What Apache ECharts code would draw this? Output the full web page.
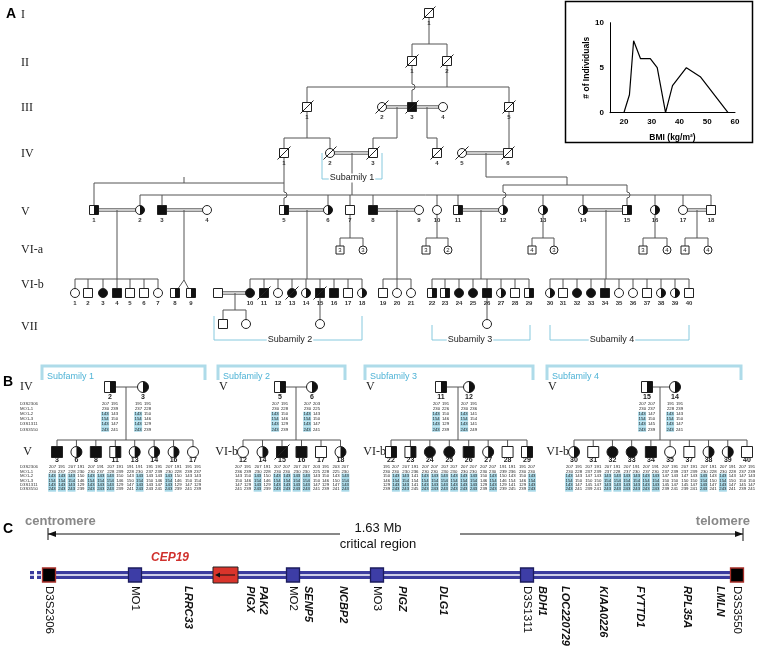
<!DOCTYPE html>
<html><head><meta charset="utf-8">
<script src="https://cdn.jsdelivr.net/npm/echarts@6/dist/echarts.min.js"></script>
<style>html,body{margin:0;padding:0;background:#fff}#c{width:757px;height:646px}</style>
</head><body><div id="c"></div>
<script>
// ---------- DATA ----------
const bmiValues = [20, 22, 23.5, 26, 29.5, 32, 35, 37.5, 42.5, 47.5, 57.5];
const individualCounts = [0, 2, 8, 6, 6, 5, 0, 3, 5, 4, 0];
const bmiTicks = [20, 30, 40, 50, 60];
const countTicks = [0, 5, 10];

const markerNames = ['D3S2306', 'MO1-1', 'MO1-2', 'MO1-3', 'D3S1311', 'D3S3550'];
// haplotypes: genotype per marker, '*' marks a shared (highlighted) allele
const sub1ParentIds = ['2', '3'];
const sub1ParentHaps = [
  '207 191,230 239,143* 143,154* 150,143* 147,243* 241',
  '191 191,237 228,143* 150,154* 146,143* 129,243* 239'];
const sub1ChildIds = ['3', '6', '8', '11', '13', '14', '16', '17'];
const sub1ChildHaps = [
  '207 191,230 237,143* 143*,154* 154*,143* 143*,243* 243*',
  '207 191,228 230,143* 150,154* 146,143* 129,243* 239',
  '207 191,230 237,143* 143*,154* 154*,143* 143*,243* 243*',
  '207 191,228 239,143* 150,154* 146,143* 129,243* 239',
  '191 191,228 230,143 143*,150 154*,147 143*,241 243*',
  '191 191,237 239,143 143,150 146,143 147,243 241',
  '207 191,230 228,143* 150,154* 146,143* 129,243* 239',
  '191 191,239 237,143 143,150 154,147 129,241 239'];
const sub2ParentIds = ['5', '6'];
const sub2ParentHaps = [
  '207 191,230 228,143* 150,154* 146,143* 129,243* 239',
  '207 203,230 225,143* 143,154* 150,143* 147,243* 241'];
const sub2ChildIds = ['12', '14', '15', '16', '17', '18'];
const sub2ChildHaps = [
  '207 191,236 239,143 150,150 146,147 129,241 239',
  '207 191,230 228,143* 150,154* 146,143* 129,243* 239',
  '207 207,230 230,143* 143*,154* 154*,143* 143*,243* 243*',
  '207 207,230 230,143* 143*,154* 154*,143* 143*,243* 243*',
  '203 191,225 228,143 150,150 146,147 129,241 239',
  '203 207,225 230,143 143*,150 154*,147 143*,241 243*'];
const sub3ParentIds = ['11', '12'];
const sub3ParentHaps = [
  '207 191,230 226,143* 150,154* 146,143* 129,243* 239',
  '207 191,230 236,143* 141,154* 154,143* 141,243* 249'];
const sub3ChildIds = ['22', '23', '24', '25', '26', '27', '28', '29'];
const sub3ChildHaps = [
  '191 207,230 230,150 143*,146 154*,129 143*,239 243*',
  '207 191,230 236,143* 141,154* 154,143* 141,243* 245',
  '207 207,230 230,143* 143*,154* 154*,143* 143*,243* 243*',
  '207 207,230 230,143* 143*,154* 154*,143* 143*,243* 243*',
  '207 207,230 230,143* 143*,154* 154*,143* 143*,243* 243*',
  '207 207,230 230,150 143*,146 154*,129 143*,239 243*',
  '191 191,239 236,150 143,146 154,129 141,239 245',
  '191 207,230 230,150 143*,146 154*,129 143*,239 243*'];
const sub4ParentIds = ['15', '14'];
const sub4ParentHaps = [
  '207 207,230 237,143* 147,154* 150,143* 145,243* 239',
  '191 191,228 239,143* 143,154* 150,143* 147,243* 241'];
const sub4ChildIds = ['30', '31', '32', '33', '34', '35', '37', '38', '39', '40'];
const sub4ChildHaps = [
  '207 191,230 228,143* 143,154* 150,143* 147,243* 241',
  '207 191,237 239,147 143,150 150,145 147,239 241',
  '207 191,237 228,143* 143*,154* 154*,143* 143*,243* 243*',
  '207 191,237 230,143* 143*,154* 154*,143* 143*,243* 243*',
  '207 191,237 230,143* 143*,154* 154*,143* 143*,243* 243*',
  '207 191,237 239,147 143,150 150,145 147,239 241',
  '207 191,237 239,147 143,150 150,145 147,239 241',
  '207 191,230 228,143* 143,154* 150,143* 147,243* 241',
  '207 191,230 228,143* 143,154* 150,143* 147,243* 241',
  '207 191,237 239,147 143,150 150,145 147,239 241'];

const mapMarkers = ['D3S2306', 'MO1', 'MO2', 'MO3', 'D3S1311', 'D3S3550'];
const mapGenes = ['LRRC33', 'PIGX', 'PAK2', 'SENP5', 'NCBP2', 'PIGZ', 'DLG1', 'BDH1', 'LOC220729', 'KIAA0226', 'FYTTD1', 'RPL35A', 'LMLN'];

// ---------- DRAWING HELPERS ----------
const SANS = "'Liberation Sans', Arial, sans-serif";
const SERIF = "'Liberation Serif', 'Times New Roman', serif";
const LINE = '#555';
const G = [];
function seg(x1, y1, x2, y2, o) { o = o || {}; G.push({ type: 'line', silent: true, z: o.z || 1, shape: { x1, y1, x2, y2 }, style: { stroke: o.c || LINE, lineWidth: o.w || 1 } }); }
function pl(pts, o) { o = o || {}; G.push({ type: 'polyline', silent: true, z: o.z || 1, shape: { points: pts }, style: { stroke: o.c || LINE, lineWidth: o.w || 1, fill: 'none' } }); }
function dbl(x1, x2, y) { seg(x1, y - 1.2, x2, y - 1.2); seg(x1, y + 1.2, x2, y + 1.2); }
function vhop(x, y1, y2, hy) {
  seg(x, y1, x, hy - 3); seg(x, hy + 3, x, y2);
  G.push({ type: 'arc', silent: true, z: 1, shape: { cx: x, cy: hy, r: 3, startAngle: -Math.PI / 2, endAngle: Math.PI / 2, clockwise: true }, style: { stroke: LINE, lineWidth: 1, fill: 'none' } });
}
function tx(x, y, t, o) {
  o = o || {};
  const st = { text: t, fill: o.c || '#000', font: o.font || ('9px ' + SANS), align: o.align || 'center', verticalAlign: o.va || 'middle' };
  if (o.bg) { st.backgroundColor = o.bg; st.padding = o.pad || [0, 1]; }
  G.push({ type: 'text', silent: true, z: o.z || 5, x, y, rotation: o.rot || 0, style: st });
}
function ind(x, y, sex, fill, dec, s) {
  const h = s / 2, bk = '#111';
  if (sex === 'm') {
    G.push({ type: 'rect', silent: true, z: 2, shape: { x: x - h, y: y - h, width: s, height: s }, style: { fill: fill === 'f' ? bk : '#fff', stroke: '#222', lineWidth: 1 } });
    if (fill === 'h') G.push({ type: 'rect', silent: true, z: 2, shape: { x: x, y: y - h, width: h, height: s }, style: { fill: bk } });
  } else {
    G.push({ type: 'circle', silent: true, z: 2, shape: { cx: x, cy: y, r: h }, style: { fill: fill === 'f' ? bk : '#fff', stroke: '#222', lineWidth: 1 } });
    if (fill === 'h') G.push({ type: 'sector', silent: true, z: 2, shape: { cx: x, cy: y, r: h, r0: 0, startAngle: -Math.PI / 2, endAngle: Math.PI / 2, clockwise: true }, style: { fill: bk } });
  }
  if (dec) seg(x - h - 2, y + h + 2, x + h + 2, y - h - 2, { c: '#222', z: 3 });
}
function P(x, y, sex, fill, dec, num) {
  ind(x, y, sex, fill, dec, 9);
  if (num) tx(x, y + 10, num, { font: 'bold 6px ' + SANS, c: '#333' });
}

// ---------- PANEL A ----------
tx(6, 14, 'A', { font: 'bold 14px ' + SANS, align: 'left' });
[['I', 15], ['II', 63], ['III', 108], ['IV', 154], ['V', 212], ['VI-a', 250], ['VI-b', 285], ['VII', 327]]
  .forEach(g => tx(21, g[1], g[0], { font: '12px ' + SERIF, align: 'left', c: '#222' }));

// lines
seg(429, 13, 429, 44); seg(412, 44, 447, 44); seg(412, 44, 412, 61); seg(447, 44, 447, 61);
vhop(412, 61, 107, 87); seg(447, 61, 447, 87); seg(307, 87, 509, 87);
seg(307, 87, 307, 107); seg(509, 87, 509, 107);
dbl(382, 412, 107); dbl(412, 443, 107);
pl([[397, 107], [397, 138], [373, 138], [373, 153]]);
pl([[427, 107], [427, 138], [437, 138], [437, 153]]);
seg(307, 107, 307, 138); seg(284, 138, 330, 138); seg(284, 138, 284, 153); seg(330, 138, 330, 153);
seg(509, 107, 509, 153);
dbl(330, 373, 153); dbl(462, 508, 153);
seg(352, 153, 352, 195);
vhop(284, 153, 210, 195); seg(94, 183, 284, 183); seg(94, 183, 94, 210); seg(184, 177, 184, 183);
pl([[486, 153], [486, 177], [567, 177], [567, 185]]); seg(503, 185, 627, 185);
vhop(503, 185, 210, 195); vhop(627, 185, 210, 195);
seg(140, 195, 711, 195);
[140, 162, 328, 350, 373, 437, 458, 543, 583, 655, 683, 711].forEach(x => seg(x, 195, x, 210));
dbl(94, 140, 210); dbl(162, 207, 210); dbl(284, 328, 210); dbl(373, 419, 210); dbl(458, 503, 210); dbl(583, 627, 210); dbl(683, 711, 210);
// VI-a
[[350, 340, 363], [437, 426, 448], [543, 532, 554], [655, 643, 667], [697, 685, 708]].forEach(a => {
  seg(a[0], 210, a[0], 238); seg(a[1], 238, a[2], 238); seg(a[1], 238, a[1], 250); seg(a[2], 238, a[2], 250);
});
// VI-b sibships
function sib(dx, l, r, kids) { seg(dx, 210, dx, 279); seg(l, 279, r, 279); kids.forEach(x => seg(x, 279, x, 293)); }
sib(117, 75, 158, [75, 88, 103, 117, 130, 144, 158]);
seg(184, 210, 184, 280); seg(184, 280, 175, 293); seg(184, 280, 191, 293);
sib(307, 250, 362, [250, 264, 278, 292, 306, 320, 334, 348, 362]);
sib(397, 383, 411, [383, 397, 411]);
sib(481, 432, 529, [432, 445, 459, 473, 487, 501, 515, 529]);
sib(606, 550, 689, [550, 563, 577, 591, 605, 619, 633, 647, 661, 675, 689]);
dbl(218, 250, 293); pl([[235, 293], [235, 310]]); seg(223, 310, 246, 310); seg(223, 310, 223, 324); seg(246, 310, 246, 324);
seg(320, 293, 320, 324); seg(487, 293, 487, 324);

// individuals
P(429, 13, 'm', 'n', 1, '1');
P(412, 61, 'm', 'n', 1, '1'); P(447, 61, 'm', 'n', 1, '2');
[[307, 'm', 'n', 1, '1'], [382, 'f', 'n', 1, '2'], [412, 'm', 'f', 1, '3'], [443, 'f', 'n', 0, '4'], [509, 'm', 'n', 1, '5']]
  .forEach(p => P(p[0], 107, p[1], p[2], p[3], p[4]));
[[284, 'm', 'n', 1, '1'], [330, 'f', 'n', 1, '2'], [373, 'm', 'n', 1, '3'], [437, 'm', 'n', 1, '4'], [462, 'f', 'n', 1, '5'], [508, 'm', 'n', 1, '6']]
  .forEach(p => P(p[0], 153, p[1], p[2], p[3], p[4]));
[[94, 'm', 'h'], [140, 'f', 'h'], [162, 'm', 'f'], [207, 'f', 'n'], [284, 'm', 'h'], [328, 'f', 'h'], [350, 'm', 'n'], [373, 'm', 'f'], [419, 'f', 'n'],
 [437, 'f', 'n'], [458, 'm', 'h'], [503, 'f', 'h'], [543, 'f', 'h'], [583, 'f', 'h'], [627, 'm', 'h'], [655, 'f', 'h'], [683, 'f', 'n'], [711, 'm', 'n']]
  .forEach((p, i) => P(p[0], 210, p[1], p[2], 0, String(i + 1)));
[[340, 'm', '3'], [363, 'f', '3'], [426, 'm', '3'], [448, 'f', '2'], [532, 'm', '4'], [554, 'f', '3'], [643, 'm', '3'], [667, 'f', '4'], [685, 'm', '4'], [708, 'f', '4']]
  .forEach(p => { ind(p[0], 250, p[1], 'n', 0, 8); tx(p[0], 250.5, p[2], { font: '6px ' + SANS, c: '#222' }); });
const vib = [[75, 'f', 'n', 0], [88, 'm', 'n', 0], [103, 'f', 'f', 0], [117, 'm', 'f', 0], [130, 'm', 'n', 0], [144, 'm', 'n', 0], [158, 'f', 'n', 0], [175, 'm', 'h', 0], [191, 'm', 'h', 0],
  [250, 'f', 'f', 0], [264, 'm', 'f', 1], [278, 'f', 'n', 0], [292, 'f', 'f', 1], [306, 'f', 'h', 0], [320, 'm', 'f', 1], [334, 'm', 'f', 0], [348, 'm', 'n', 0], [362, 'f', 'h', 0],
  [383, 'm', 'n', 0], [397, 'f', 'n', 0], [411, 'f', 'n', 0],
  [432, 'm', 'h', 0], [445, 'm', 'h', 0], [459, 'f', 'f', 0], [473, 'f', 'f', 0], [487, 'm', 'f', 0], [501, 'f', 'h', 0], [515, 'm', 'n', 0], [529, 'm', 'h', 0],
  [550, 'f', 'h', 0], [563, 'm', 'n', 0], [577, 'f', 'f', 0], [591, 'f', 'f', 0], [605, 'm', 'f', 0], [619, 'f', 'n', 0], [633, 'f', 'n', 0], [647, 'm', 'n', 0], [661, 'f', 'h', 0], [675, 'f', 'h', 0], [689, 'm', 'n', 0]];
vib.forEach((p, i) => P(p[0], 293, p[1], p[2], p[3], String(i + 1)));
P(218, 293, 'm', 'n', 0, '');
P(223, 324, 'm', 'n', 0, ''); P(246, 324, 'f', 'n', 0, ''); P(320, 324, 'f', 'n', 0, ''); P(487, 324, 'f', 'n', 0, '');
// subfamily brackets in A
const BL = '#86c9de';
pl([[322, 153], [322, 179], [382, 179], [382, 153]], { c: BL });
pl([[214, 316], [214, 340], [362, 340], [362, 316]], { c: BL });
pl([[432, 325], [432, 340], [530, 340], [530, 325]], { c: BL });
pl([[550, 325], [550, 340], [689, 340], [689, 325]], { c: BL });
tx(352, 178, 'Subamily 1', { font: '9px ' + SANS, c: '#222', bg: '#fff', pad: [0, 1] });
tx(290, 340, 'Subamily 2', { font: '9px ' + SANS, c: '#222', bg: '#fff', pad: [0, 1] });
tx(470, 340, 'Subamily 3', { font: '9px ' + SANS, c: '#222', bg: '#fff', pad: [0, 1] });
tx(612, 340, 'Subamily 4', { font: '9px ' + SANS, c: '#222', bg: '#fff', pad: [0, 1] });

// ---------- PANEL B ----------
tx(8, 382, 'B', { font: 'bold 14px ' + SANS });
const HL = '#a8d9e8';
function haps(x, y0, step, s) {
  s.split(',').forEach((g, i) => {
    const a = g.split(' ');
    const y = y0 + i * step;
    [0, 1].forEach(k => {
      const v = a[k], hl = v.endsWith('*'), t = hl ? v.slice(0, -1) : v;
      const o = { font: '4.3px ' + SANS, c: '#222', align: k ? 'left' : 'right' };
      if (hl) { o.bg = HL; o.pad = [0.4, 0.4]; }
      tx(k ? x + 0.9 : x - 0.9, y, t, o);
    });
  });
}
function subfam(c) {
  pl([[c.bl, 380], [c.bl, 366], [c.br, 366], [c.br, 380]], { c: '#aedbe9', w: 3 });
  tx(c.bl + 5, 377, c.title, { font: '9px ' + SANS, c: '#4fb3d6', align: 'left' });
  tx(c.gpx, 387, c.gp, { font: '12px ' + SERIF, align: c.gpAlign || 'left', c: '#222' });
  tx(c.gcx, 452, c.gc, { font: '12px ' + SERIF, align: 'right', c: '#222' });
  seg(c.px[0], 387, c.px[1], 387); seg(c.dx, 387, c.dx, 440);
  seg(c.kx[0], 440, c.kx[c.kx.length - 1], 440);
  c.kx.forEach(x => seg(x, 440, x, 452));
  c.pSym.forEach((p, i) => {
    ind(c.px[i], 387, p[0], p[1], 0, 11);
    tx(c.px[i], 397.5, c.pIds[i], { font: 'bold 7px ' + SANS, c: '#222' });
    haps(c.px[i], 404, 5.07, c.pHaps[i]);
  });
  c.kSym.forEach((p, i) => {
    ind(c.kx[i], 452, p[0], p[1], p[2] || 0, 11);
    tx(c.kx[i], 460.5, c.kIds[i], { font: 'bold 7px ' + SANS, c: '#222' });
    haps(c.kx[i], 467, 4.46, c.kHaps[i]);
  });
}
function spread(a, b, n) { const r = []; for (let i = 0; i < n; i++) r.push(a + (b - a) * i / (n - 1)); return r; }
subfam({ bl: 42, br: 205, title: 'Subfamily 1', gp: 'IV', gpx: 20, gc: 'V', gcx: 32, px: [110, 143], dx: 126,
  kx: spread(57, 193, 8), pIds: sub1ParentIds, pHaps: sub1ParentHaps, kIds: sub1ChildIds, kHaps: sub1ChildHaps,
  pSym: [['m', 'h'], ['f', 'h']], kSym: [['m', 'f'], ['f', 'h'], ['m', 'f'], ['m', 'h'], ['f', 'h'], ['f', 'h'], ['f', 'h'], ['f', 'n']] });
subfam({ bl: 218, br: 345, title: 'Subfamily 2', gp: 'V', gpx: 219, gc: 'VI-b', gcx: 238, px: [280, 312], dx: 296,
  kx: spread(243, 340.5, 6), pIds: sub2ParentIds, pHaps: sub2ParentHaps, kIds: sub2ChildIds, kHaps: sub2ChildHaps,
  pSym: [['m', 'h'], ['f', 'h']], kSym: [['f', 'n'], ['f', 'h'], ['m', 'f', 1], ['m', 'f'], ['m', 'n'], ['f', 'h']] });
subfam({ bl: 365, br: 533, title: 'Subfamily 3', gp: 'V', gpx: 366, gc: 'VI-b', gcx: 386, px: [441, 469], dx: 458,
  kx: spread(391, 527, 8), pIds: sub3ParentIds, pHaps: sub3ParentHaps, kIds: sub3ChildIds, kHaps: sub3ChildHaps,
  pSym: [['m', 'h'], ['f', 'h']], kSym: [['m', 'h'], ['m', 'h'], ['f', 'f'], ['f', 'f'], ['m', 'f'], ['f', 'h'], ['m', 'n'], ['m', 'h']] });
subfam({ bl: 547, br: 741, title: 'Subfamily 4', gp: 'V', gpx: 548, gc: 'VI-b', gcx: 569, px: [647, 675], dx: 660,
  kx: spread(574, 747, 10), pIds: sub4ParentIds, pHaps: sub4ParentHaps, kIds: sub4ChildIds, kHaps: sub4ChildHaps,
  pSym: [['m', 'h'], ['f', 'h']], kSym: [['f', 'h'], ['m', 'n'], ['f', 'f'], ['f', 'f'], ['m', 'f'], ['f', 'n'], ['m', 'n'], ['f', 'h'], ['f', 'h'], ['m', 'n']] });
markerNames.forEach((m, i) => {
  tx(20, 404 + i * 5.07, m, { font: '4.3px ' + SANS, c: '#333', align: 'left' });
  tx(20, 467 + i * 4.46, m, { font: '4.3px ' + SANS, c: '#333', align: 'left' });
});

// ---------- PANEL C ----------
tx(8, 529, 'C', { font: 'bold 14px ' + SANS });
tx(25, 521, 'centromere', { font: 'bold 13px ' + SANS, c: '#888', align: 'left' });
tx(750, 521, 'telomere', { font: 'bold 13px ' + SANS, c: '#888', align: 'right' });
tx(378, 528, '1.63 Mb', { font: '13px ' + SANS, c: '#111' });
tx(378, 544, 'critical region', { font: '13px ' + SANS, c: '#111' });
seg(48, 534, 340, 534, { c: '#111' }); seg(48, 528, 48, 540, { c: '#111' });
G.push({ type: 'polygon', silent: true, z: 2, shape: { points: [[48, 534], [56, 531], [56, 537]] }, style: { fill: '#111' } });
seg(460, 534, 743, 534, { c: '#111' }); seg(743, 528, 743, 541, { c: '#111' });
G.push({ type: 'polygon', silent: true, z: 2, shape: { points: [[743, 534], [735, 531], [735, 537]] }, style: { fill: '#111' } });
// chromosome bar
const CB = '#3b3b9e';
G.push({ type: 'rect', silent: true, z: 1, shape: { x: 43, y: 571, width: 700, height: 8 }, style: { fill: CB } });
G.push({ type: 'rect', silent: true, z: 1, shape: { x: 30, y: 571, width: 4, height: 8 }, style: { fill: CB } });
G.push({ type: 'rect', silent: true, z: 1, shape: { x: 37, y: 571, width: 4, height: 8 }, style: { fill: CB } });
seg(28, 575, 743, 575, { c: '#fff', w: 1.4, z: 1 });
const markerX = [49, 135, 293, 377, 527, 737];
mapMarkers.forEach((m, i) => {
  const end = i === 0 || i === mapMarkers.length - 1;
  G.push({ type: 'rect', silent: true, z: 3, shape: { x: markerX[i] - 6.5, y: 568, width: 13, height: 14 },
    style: { fill: end ? '#000' : '#3d3da6', stroke: end ? '#a8302a' : '#1c1c5e', lineWidth: 1.3 } });
  tx(markerX[i], 586, m, { font: '11.5px ' + SANS, c: '#111', align: 'left', rot: -Math.PI / 2 });
});
const geneX = [188, 250, 263, 308, 343, 402, 443, 542, 565, 603, 640, 687, 720];
mapGenes.forEach((g, i) => tx(geneX[i], 586, g, { font: 'italic bold 11px ' + SANS, c: '#111', align: 'left', rot: -Math.PI / 2 }));
G.push({ type: 'rect', silent: true, z: 3, shape: { x: 213, y: 567, width: 25, height: 16 }, style: { fill: '#d9342b', stroke: '#222', lineWidth: 1 } });
seg(217, 575, 235, 575, { c: '#111', z: 4 });
G.push({ type: 'polygon', silent: true, z: 4, shape: { points: [[215, 575], [220, 572.5], [220, 577.5]] }, style: { fill: '#111' } });
tx(170, 558, 'CEP19', { font: 'italic bold 12px ' + SANS, c: '#d0312d' });

// inset border
G.push({ type: 'rect', silent: true, z: 1, shape: { x: 565.5, y: 1.5, width: 187, height: 141 }, style: { fill: 'none', stroke: '#000', lineWidth: 1.5 } });

// ---------- CHART ----------
const chart = echarts.init(document.getElementById('c'), null, { renderer: 'canvas' });
chart.setOption({
  animation: false,
  backgroundColor: '#fff',
  grid: { left: 610, top: 22.7, width: 125, height: 90, containLabel: false },
  xAxis: {
    type: 'value', min: 15, max: 60, interval: 5,
    axisLine: { show: true, lineStyle: { color: '#000', width: 1 } },
    axisTick: { show: false }, splitLine: { show: false },
    axisLabel: { formatter: v => bmiTicks.includes(v) ? String(v) : '', fontSize: 8, fontWeight: 'bold', color: '#000', margin: 5, fontFamily: SANS },
    name: 'BMI (kg/m²)', nameLocation: 'middle', nameGap: 20,
    nameTextStyle: { fontSize: 8.5, fontWeight: 'bold', color: '#000', fontFamily: SANS }
  },
  yAxis: {
    type: 'value', min: countTicks[0], max: countTicks[countTicks.length - 1], interval: 5,
    axisLine: { show: true, lineStyle: { color: '#000', width: 1 } },
    axisTick: { show: false }, splitLine: { show: false },
    axisLabel: { fontSize: 8, fontWeight: 'bold', color: '#000', margin: 6, fontFamily: SANS },
    name: '# of Individuals', nameLocation: 'middle', nameGap: 17, nameRotate: 90,
    nameTextStyle: { fontSize: 8.5, fontWeight: 'bold', color: '#000', fontFamily: SANS }
  },
  series: [{
    type: 'line', data: bmiValues.map((b, i) => [b, individualCounts[i]]),
    symbol: 'none', lineStyle: { color: '#000', width: 1.2 }, silent: true
  }],
  graphic: { elements: G }
});
</script></body></html>
